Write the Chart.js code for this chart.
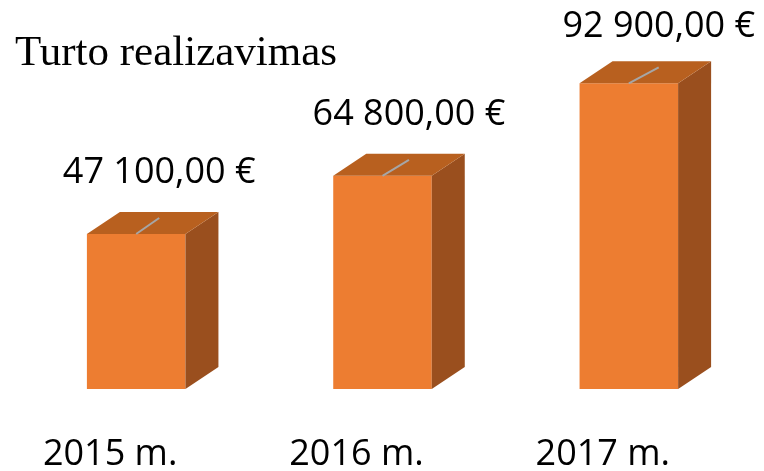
<!DOCTYPE html>
<html lang="lt">
<head>
<meta charset="utf-8">
<title>Turto realizavimas</title>
<script src="https://cdn.jsdelivr.net/npm/chart.js@4/dist/chart.umd.min.js"></script>
<style>
    body { margin: 0; background: #fff; }
    #konteineris { position: relative; width: 764px; height: 471px; }
</style>
</head>
<body>
<div id="konteineris"><canvas id="grafikas"></canvas></div>
<script>
// --- Duomenys ---
const pavadinimas = 'Turto realizavimas';
const metai = ['2015 m.', '2016 m.', '2017 m.'];
const sumos = [47100, 64800, 92900];

// --- Spalvos ---
const spalvaPriekis = '#ED7D31';
const spalvaVirsus = '#B8601F';
const spalvaSonas = '#9A4F1E';
const spalvaLinija = '#A6A6A6';
const spalvaTekstas = '#000';

// 3D gylis
const gylisX = 33;
const gylisY = 22;

// 47100 -> "47 100,00 €"
const formatuotiSuma = (v) => {
    const [sv, dal] = v.toFixed(2).split('.');
    return sv.replace(/\B(?=(\d{3})+(?!\d))/g, ' ') + ',' + dal + ' €';
};

// Piešia 3D stulpelių šonus, viršų, reikšmes ir pavadinimą
const trimatisPlugin = {
    id: 'trimatis',
    afterDatasetsDraw(chart) {
        const ctx = chart.ctx;
        const meta = chart.getDatasetMeta(0);
        ctx.save();
        meta.data.forEach((bar, i) => {
            const { x, y, base, width } = bar.getProps(['x', 'y', 'base', 'width'], true);
            const kaire = x - width / 2;
            const desine = x + width / 2;

            // šonas
            ctx.fillStyle = spalvaSonas;
            ctx.beginPath();
            ctx.moveTo(desine, y);
            ctx.lineTo(desine + gylisX, y - gylisY);
            ctx.lineTo(desine + gylisX, base - gylisY);
            ctx.lineTo(desine, base);
            ctx.closePath();
            ctx.fill();

            // viršus
            ctx.fillStyle = spalvaVirsus;
            ctx.beginPath();
            ctx.moveTo(kaire, y);
            ctx.lineTo(kaire + gylisX, y - gylisY);
            ctx.lineTo(desine + gylisX, y - gylisY);
            ctx.lineTo(desine, y);
            ctx.closePath();
            ctx.fill();

            // reikšmės etiketė ir linija
            const etiketesX = x + 23 + (x - meta.data[0].x) * 0.014;
            const etiketesY = Math.max(25, y - 63);
            ctx.strokeStyle = spalvaLinija;
            ctx.lineWidth = 2;
            ctx.beginPath();
            ctx.moveTo(x, y);
            ctx.lineTo(etiketesX, y - gylisY + 6);
            ctx.stroke();

            ctx.fillStyle = spalvaTekstas;
            ctx.font = '36px "Open Sans"';
            ctx.textAlign = 'center';
            ctx.textBaseline = 'middle';
            ctx.fillText(formatuotiSuma(sumos[i]), etiketesX, etiketesY + 2);
        });

        // pavadinimas
        ctx.fillStyle = spalvaTekstas;
        ctx.font = '43px "Liberation Serif"';
        ctx.textAlign = 'left';
        ctx.textBaseline = 'alphabetic';
        ctx.fillText(pavadinimas, 15, 65);
        ctx.restore();
    }
};

const ctxGrafikas = document.getElementById('grafikas').getContext('2d');
new Chart(ctxGrafikas, {
    type: 'bar',
    data: {
        labels: metai,
        datasets: [{
            data: sumos,
            backgroundColor: spalvaPriekis,
            borderWidth: 0,
            barPercentage: 0.8,
            categoryPercentage: 0.5
        }]
    },
    options: {
        responsive: true,
        maintainAspectRatio: false,
        animation: false,
        events: [],
        layout: { padding: { top: 60, left: 13, right: 12, bottom: 0 } },
        plugins: {
            legend: { display: false },
            tooltip: { enabled: false },
            title: { display: false }
        },
        scales: {
            y: { display: false, min: 0, max: 100000 },
            x: {
                grid: { display: false, drawTicks: false },
                border: { display: false },
                afterFit: (scale) => { scale.height = 82; },
                ticks: {
                    color: spalvaTekstas,
                    font: { family: '"Open Sans"', size: 36, lineHeight: 0.96 },
                    padding: 48,
                    labelOffset: -26,
                    maxRotation: 0,
                    autoSkip: false
                }
            }
        }
    },
    plugins: [trimatisPlugin]
});
</script>
</body>
</html>
